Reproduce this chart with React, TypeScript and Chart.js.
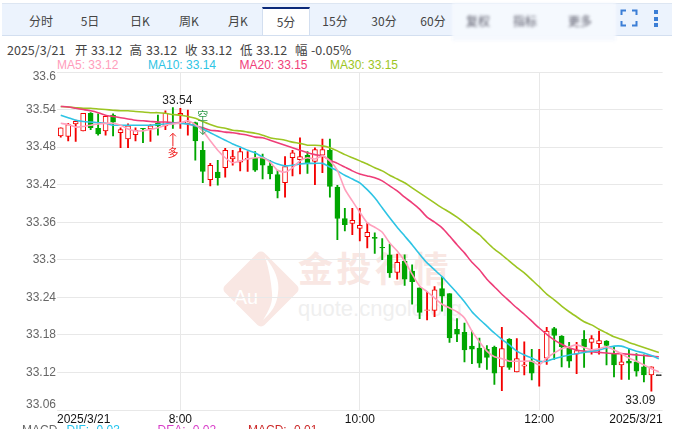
import React, { useEffect, useRef } from "react";
import { Chart, registerables } from "chart.js";

Chart.register(...registerables);

const categories = [
  "6:40","6:45","6:50","6:55","7:00","7:05","7:10","7:15","7:20","7:25","7:30","7:35",
  "7:40","7:45","7:50","7:55","8:00","8:05","8:10","8:15","8:20","8:25","8:30","8:35",
  "8:40","8:45","8:50","8:55","9:00","9:05","9:10","9:15","9:20","9:25","9:30","9:35",
  "9:40","9:45","9:50","9:55","10:00","10:05","10:10","10:15","10:20","10:25","10:30","10:35",
  "10:40","10:45","10:50","10:55","11:00","11:05","11:10","11:15","11:20","11:25","11:30","11:35",
  "11:40","11:45","11:50","11:55","12:00","12:05","12:10","12:15","12:20","12:25","12:30","12:35",
  "12:40","12:45","12:50","12:55","13:00","13:05","13:10","13:15","13:20",
];
const xTickLabels: Record<string, string> = {
  "6:40": "2025/3/21", "8:00": "8:00", "10:00": "10:00", "12:00": "12:00", "13:20": "2025/3/21",
};
const yTicks = [33.6, 33.54, 33.48, 33.42, 33.36, 33.3, 33.24, 33.18, 33.12, 33.06];

const opens = [
  33.498,33.497,33.517,33.506,33.534,33.510,33.506,33.531,33.503,33.493,33.500,33.510,33.509,33.518,33.514,33.519,33.531,33.518,33.519,33.475,
  33.428,33.440,33.447,33.461,33.456,33.461,33.462,33.463,33.450,33.436,33.423,33.463,33.460,33.467,33.457,33.467,33.475,33.416,33.366,33.358,
  33.350,33.337,33.336,33.320,33.308,33.280,33.298,33.282,33.255,33.219,33.219,33.254,33.246,33.189,33.184,33.162,33.159,33.157,33.160,33.129,
  33.173,33.121,33.130,33.138,33.137,33.143,33.190,33.178,33.159,33.149,33.173,33.168,33.166,33.170,33.150,33.132,33.138,33.137,33.129,33.116,33.115,
];
const closes = [
  33.511,33.516,33.521,33.534,33.511,33.501,33.529,33.520,33.508,33.514,33.507,33.509,33.514,33.514,33.534,33.518,33.534,33.520,33.490,33.441,
  33.451,33.431,33.475,33.465,33.473,33.462,33.443,33.451,33.437,33.410,33.449,33.471,33.465,33.455,33.476,33.476,33.417,33.366,33.356,33.363,
  33.355,33.344,33.334,33.319,33.279,33.296,33.269,33.265,33.216,33.220,33.252,33.242,33.175,33.181,33.156,33.157,33.135,33.144,33.119,33.158,
  33.128,33.142,33.132,33.119,33.138,33.186,33.179,33.161,33.138,33.155,33.161,33.174,33.171,33.163,33.132,33.137,33.135,33.122,33.116,33.129,33.115,
];
const highs = [
  33.511,33.518,33.523,33.534,33.535,33.533,33.530,33.533,33.511,33.517,33.511,33.510,33.516,33.531,33.538,33.543,33.542,33.539,33.520,33.489,
  33.454,33.459,33.478,33.475,33.478,33.473,33.473,33.469,33.459,33.443,33.465,33.475,33.495,33.473,33.479,33.493,33.493,33.419,33.382,33.382,
  33.382,33.359,33.343,33.334,33.325,33.309,33.308,33.292,33.255,33.249,33.257,33.272,33.246,33.206,33.199,33.186,33.175,33.163,33.162,33.192,
  33.174,33.174,33.169,33.157,33.157,33.192,33.192,33.179,33.168,33.168,33.187,33.179,33.186,33.171,33.161,33.150,33.158,33.150,33.148,33.129,33.115,
];
const lows = [
  33.496,33.490,33.489,33.506,33.508,33.499,33.499,33.498,33.479,33.479,33.490,33.487,33.489,33.499,33.508,33.510,33.510,33.499,33.459,33.423,
  33.418,33.419,33.432,33.451,33.442,33.441,33.441,33.429,33.429,33.399,33.400,33.434,33.437,33.438,33.420,33.439,33.400,33.332,33.346,33.340,
  33.330,33.319,33.310,33.300,33.272,33.269,33.259,33.229,33.206,33.204,33.209,33.218,33.168,33.169,33.137,33.134,33.128,33.125,33.101,33.091,
  33.125,33.121,33.116,33.108,33.098,33.133,33.141,33.129,33.128,33.118,33.128,33.149,33.149,33.132,33.113,33.109,33.109,33.114,33.105,33.090,33.115,
];

const ma5 = [
  33.518,33.516,33.512,33.513,33.515,33.517,33.518,33.518,33.515,33.509,33.506,33.506,33.508,33.511,33.515,33.517,33.519,33.522,33.516,33.506,
  33.490,33.475,33.463,33.455,33.458,33.461,33.463,33.463,33.456,33.443,33.440,33.447,33.458,33.463,33.461,33.466,33.458,33.443,33.413,33.394,
  33.376,33.359,33.352,33.344,33.327,33.314,33.298,33.277,33.258,33.249,33.239,33.229,33.223,33.217,33.207,33.186,33.169,33.154,33.145,33.142,
  33.138,33.138,33.138,33.138,33.132,33.143,33.151,33.158,33.161,33.164,33.160,33.156,33.158,33.161,33.156,33.150,33.143,33.138,33.132,33.126,33.121,
];
const ma10 = [
  33.531,33.527,33.523,33.521,33.520,33.519,33.518,33.515,33.515,33.515,33.515,33.515,33.515,33.516,33.517,33.518,33.518,33.517,33.514,33.509,
  33.503,33.497,33.491,33.485,33.480,33.475,33.471,33.464,33.458,33.453,33.450,33.451,33.453,33.454,33.454,33.454,33.448,33.442,33.435,33.429,
  33.423,33.412,33.399,33.383,33.367,33.352,33.338,33.324,33.309,33.295,33.284,33.273,33.260,33.247,33.233,33.217,33.205,33.194,33.183,33.173,
  33.164,33.154,33.148,33.143,33.138,33.138,33.142,33.145,33.148,33.150,33.152,33.154,33.156,33.159,33.162,33.162,33.158,33.154,33.151,33.147,33.142,
];
const ma20 = [
  33.545,33.544,33.542,33.540,33.538,33.535,33.531,33.529,33.527,33.525,33.523,33.522,33.521,33.520,33.520,33.519,33.519,33.517,33.514,33.511,
  33.507,33.506,33.504,33.503,33.501,33.499,33.496,33.495,33.491,33.487,33.483,33.479,33.475,33.471,33.468,33.466,33.459,33.454,33.448,33.442,
  33.437,33.434,33.431,33.426,33.418,33.410,33.400,33.391,33.381,33.368,33.360,33.351,33.338,33.324,33.311,33.296,33.284,33.269,33.257,33.245,
  33.234,33.223,33.213,33.202,33.191,33.181,33.172,33.165,33.159,33.156,33.154,33.153,33.152,33.151,33.150,33.150,33.149,33.148,33.147,33.146,33.145,
];
const ma30 = [
  33.545,33.544,33.543,33.542,33.542,33.541,33.540,33.539,33.538,33.538,33.537,33.536,33.535,33.535,33.534,33.532,33.531,33.529,33.526,33.521,
  33.516,33.512,33.510,33.507,33.506,33.504,33.502,33.499,33.495,33.493,33.491,33.488,33.486,33.483,33.483,33.482,33.479,33.474,33.468,33.463,
  33.458,33.453,33.447,33.442,33.435,33.429,33.423,33.415,33.407,33.399,33.391,33.383,33.376,33.368,33.359,33.349,33.340,33.328,33.317,33.308,
  33.298,33.288,33.279,33.268,33.257,33.245,33.236,33.226,33.217,33.209,33.201,33.196,33.189,33.183,33.177,33.173,33.168,33.164,33.160,33.156,33.152,
];

const tabs = ["分时", "5日", "日K", "周K", "月K", "5分", "15分", "30分", "60分"];
const tabCentres = [41, 90, 140, 189, 238, 286, 335, 384, 433];
const blurredTabs = ["复权", "指标", "更多"];
const quoteDate = "2025/3/21";
const quoteFields = [["开", "33.12"], ["高", "33.12"], ["收", "33.12"], ["低", "33.12"], ["幅", "-0.05%"]];
const maLegend = [["MA5: 33.12", "#ff9dbb"], ["MA10: 33.14", "#2ec4e4"], ["MA20: 33.15", "#f0407a"], ["MA30: 33.15", "#9cc522"]];
const macdLegend = [["DIF: -0.03", "#22c4ee"], ["DEA: -0.02", "#d83cc8"], ["MACD: -0.01", "#cc2a2a"]];
const maxMark = { index: 16, text: "33.54" };
const minMark = { index: 79, text: "33.09" };
const buyMark = { index: 15, text: "多" };
const sellMark = { index: 19, text: "空" };

const RED = "#f40000";
const GREEN = "#00a600";
const candleColour = (i: number) =>
  closes[i] > opens[i] ? RED : closes[i] < opens[i] ? GREEN : "#333333";

const markers = {
  id: "markers",
  beforeDraw(chart: any) {
    const yItems = chart.scales.y.getLabelItems();
    yItems.forEach((it: any) => {
      if (it.label === "33.6") it.options.translation[1] += 5;
      if (it.label === "33.06") it.options.translation[1] -= 5;
    });
    const xItems = chart.scales.x.getLabelItems();
    xItems.forEach((it: any, i: number) => {
      if (i === 0) { it.options.textAlign = "left"; it.options.translation[0] = chart.chartArea.left; }
      if (i === xItems.length - 1) { it.options.textAlign = "right"; it.options.translation[0] = chart.chartArea.right; }
    });
  },
  afterDatasetsDraw(chart: any) {
    const { ctx, scales: { x, y } } = chart;
    ctx.save();
    ctx.font = "12px 'Liberation Sans'";
    ctx.fillStyle = "#222";
    ctx.textAlign = "center";
    ctx.textBaseline = "middle";
    ctx.fillText(maxMark.text, x.getPixelForValue(maxMark.index) - 3, y.getPixelForValue(highs[maxMark.index]) - 8);
    ctx.textAlign = "right";
    ctx.fillText(minMark.text, x.getPixelForValue(minMark.index) + 4, y.getPixelForValue(lows[minMark.index]) + 9);

    const bx = x.getPixelForValue(buyMark.index);
    const by = y.getPixelForValue(lows[buyMark.index]);
    ctx.strokeStyle = "#f02020";
    ctx.fillStyle = "#f02020";
    ctx.lineWidth = 1;
    ctx.beginPath();
    ctx.moveTo(bx, by + 5); ctx.lineTo(bx, by + 18);
    ctx.moveTo(bx - 3, by + 8); ctx.lineTo(bx, by + 5); ctx.lineTo(bx + 3, by + 8);
    ctx.stroke();
    ctx.textAlign = "center";
    ctx.font = "11px 'Noto Sans CJK SC'";
    ctx.fillText(buyMark.text, bx, by + 24);

    const sx = x.getPixelForValue(sellMark.index);
    const sy = y.getPixelForValue(highs[sellMark.index]);
    ctx.strokeStyle = "#2f9a4a";
    ctx.fillStyle = "#2f9a4a";
    ctx.fillText(sellMark.text, sx, sy - 26);
    ctx.beginPath();
    ctx.moveTo(sx, sy - 20); ctx.lineTo(sx, sy - 7);
    ctx.moveTo(sx - 3, sy - 10); ctx.lineTo(sx, sy - 7); ctx.lineTo(sx + 3, sy - 10);
    ctx.stroke();
    ctx.restore();
  },
};

const abs = (s: React.CSSProperties): React.CSSProperties => ({ position: "absolute", whiteSpace: "nowrap", ...s });

export default function App() {
  const ref = useRef<HTMLCanvasElement>(null);
  useEffect(() => {
    const line = (label: string, data: number[], color: string, order: number) => ({
      type: "line" as const, label, data, borderColor: color, borderWidth: 1.6,
      pointRadius: 0, fill: false, tension: 0.2, order,
    });
    const chart = new Chart(ref.current!, {
      type: "bar",
      data: {
        labels: categories,
        datasets: [
          {
            label: "wick", data: lows.map((l, i) => [l, highs[i]]) as any,
            backgroundColor: categories.map((_, i) => candleColour(i)),
            barThickness: 1.2, grouped: false, order: 20,
          } as any,
          {
            label: "body", data: opens.map((o, i) => [o, o === closes[i] ? o + 0.0016 : closes[i]]) as any,
            backgroundColor: categories.map((_, i) => (closes[i] > opens[i] ? "#ffffff" : candleColour(i))),
            borderColor: categories.map((_, i) => candleColour(i)),
            borderWidth: 1, borderSkipped: false, barThickness: 5, grouped: false, order: 19,
          } as any,
          line("MA30", ma30, "#9cc522", 4),
          line("MA20", ma20, "#ee3d78", 3),
          line("MA10", ma10, "#2ec4e4", 2),
          line("MA5", ma5, "#ffa0bd", 1),
        ],
      },
      options: {
        responsive: false,
        animation: false,
        layout: { padding: { top: 72, right: 16.4, left: 0, bottom: 0 } },
        plugins: { legend: { display: false }, tooltip: { enabled: false } },
        scales: {
          x: {
            type: "category",
            offset: true,
            border: { display: false },
            grid: {
              offset: false, drawTicks: false, lineWidth: 1,
              color: (c: any) => (xTickLabels[categories[c.index]] && c.index > 0 && c.index < 80 ? "#e8e8e8" : "rgba(0,0,0,0)"),
            },
            ticks: {
              autoSkip: false, maxRotation: 0, padding: 2, color: "#111",
              font: { family: "'Liberation Sans'", size: 12 },
              callback: (_: any, i: number) => xTickLabels[categories[i]] ?? "",
            },
            afterFit: (s: any) => { s.height = 19; s.paddingLeft = 0; s.paddingRight = 0; },
          },
          y: {
            type: "linear", min: 33.06, max: 33.6,
            border: { display: false },
            grid: { color: "#e8e8e8", drawTicks: false, lineWidth: 1 },
            afterBuildTicks: (s: any) => { s.ticks = yTicks.map((value) => ({ value })); },
            ticks: {
              padding: 1, color: "#666", autoSkip: false,
              font: { family: "'Liberation Sans'", size: 12 },
              callback: (v: any) => String(v),
            },
            afterFit: (s: any) => { s.width = 57; s.paddingTop = 0; s.paddingBottom = 0; },
          },
        },
      } as any,
      plugins: [markers],
    } as any);
    return () => chart.destroy();
  }, []);

  const uiFont = "'Noto Sans CJK SC', 'Noto Sans', sans-serif";
  const fieldX = [[75, 91], [129.5, 146], [185, 201], [240, 256], [295, 311]];
  const maX = [57, 148, 239.5, 330];
  const macdX = [66.5, 157.5, 248];
  return (
    <div style={{ position: "fixed", inset: 0, overflow: "hidden", background: "#fff", fontFamily: uiFont }}>
      {/* tab bar */}
      <div style={abs({ left: 2, top: 3, width: 670, height: 31, background: "#ecf3fd", borderTop: "1px solid #dde6f2", borderBottom: "1px solid #d3dff0" })} />
      <div style={abs({ left: 262, top: 7, width: 48, height: 28, background: "#fff", borderTop: "2px solid #0b2a7a", borderLeft: "1px solid #d3dff0", borderRight: "1px solid #d3dff0", boxSizing: "border-box" })} />
      {tabs.map((t, i) => (
        <span key={t} style={abs({ left: tabCentres[i], top: i === 5 ? 13 : 12, transform: "translateX(-50%)", fontSize: 12, lineHeight: "18px", color: "#444" })}>{t}</span>
      ))}
      <div style={abs({ left: 452, top: 3, width: 164, height: 38, background: "rgba(245,249,254,0.95)", filter: "blur(1.5px)" })} />
      {blurredTabs.map((t, i) => (
        <span key={t} style={abs({ left: [478, 525, 580][i], top: 12, transform: "translateX(-50%)", fontSize: 12, lineHeight: "18px", color: "#556", filter: "blur(1.4px)" })}>{t}</span>
      ))}
      <svg width={18} height={18} style={abs({ left: 620, top: 9 })}>
        <path d="M1.5 6V1.5H6 M12 1.5H16.5V6 M16.5 12V16.5H12 M6 16.5H1.5V12" fill="none" stroke="#3b7ed6" strokeWidth={2} />
      </svg>
      {[0, 1, 2].map((i) => (
        <div key={i} style={abs({ left: 654, top: 10 + i * 6.5, width: 4, height: 4, background: "#3b7ed6" })} />
      ))}

      {/* quote header */}
      <span style={abs({ left: 7, top: 41, fontSize: 12.5, lineHeight: "18px", color: "#444" })}>{quoteDate}</span>
      {quoteFields.map(([k, v], i) => (
        <React.Fragment key={k}>
          <span style={abs({ left: fieldX[i][0], top: 41, fontSize: 12.5, lineHeight: "18px", color: "#444" })}>{k}</span>
          <span style={abs({ left: fieldX[i][1], top: 41, fontSize: 12.5, lineHeight: "18px", color: "#444" })}>{v}</span>
        </React.Fragment>
      ))}
      {maLegend.map(([t, c], i) => (
        <span key={t} style={abs({ left: maX[i], top: 58, fontFamily: "'Liberation Sans'", fontSize: 12, lineHeight: "14px", color: c })}>{t}</span>
      ))}

      {/* watermark */}
      <svg width={84} height={84} style={abs({ left: 219, top: 247 })}>
        <rect x={14} y={14} width={56} height={56} rx={5} fill="#f9e7e3" transform="rotate(45 42 42)" />
        <path d="M46 10 C56 22 61 34 59 46 C58 58 52 66 44 73 C51 62 54 54 53 46 C52 34 50 22 46 10Z" fill="#fff" />
        <text x={27} y={57} textAnchor="middle" fontFamily="'Liberation Sans'" fontSize={20} fill="#fff">Au</text>
      </svg>
      <span style={abs({ left: 298, top: 246, fontFamily: "'Noto Sans CJK SC'", fontWeight: 700, fontSize: 35, letterSpacing: 3.5, lineHeight: "42px", color: "#f9e7e3" })}>金投行情</span>
      <span style={abs({ left: 298, top: 296, fontFamily: "'Liberation Sans'", fontSize: 22, lineHeight: "26px", color: "#efefef" })}>quote.cngold.org</span>

      {/* chart */}
      <canvas ref={ref} width={679} height={429} style={abs({ left: 0, top: 0, width: 679, height: 429 })} />

      {/* MACD row, cut by the window */}
      <span style={abs({ left: 22, top: 423, fontFamily: "'Liberation Sans'", fontSize: 12, lineHeight: "14px", color: "#666" })}>MACD</span>
      {macdLegend.map(([t, c], i) => (
        <span key={t} style={abs({ left: macdX[i], top: 423, fontFamily: "'Liberation Sans'", fontSize: 12, lineHeight: "14px", color: c })}>{t}</span>
      ))}
    </div>
  );
}
